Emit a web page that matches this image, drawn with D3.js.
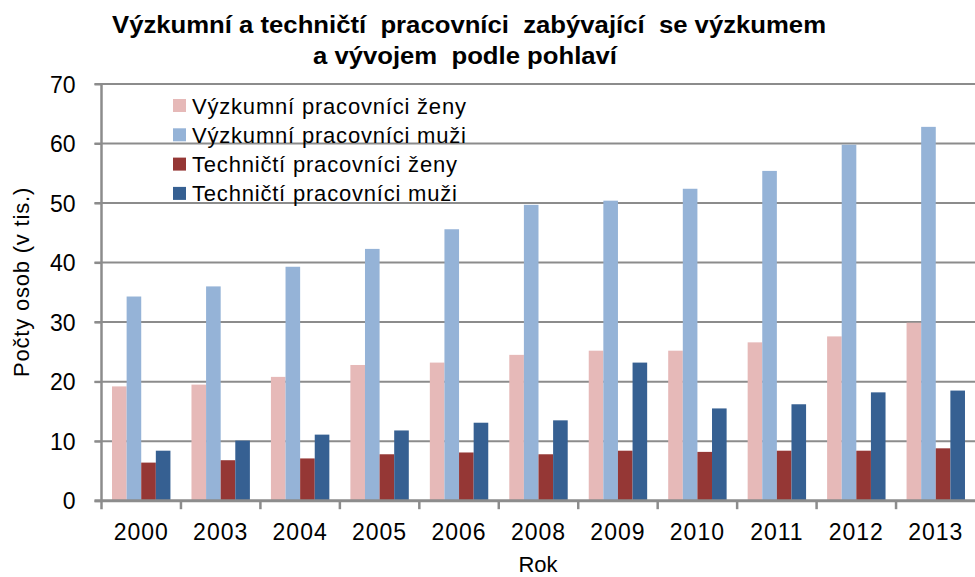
<!DOCTYPE html>
<html>
<head>
<meta charset="utf-8">
<script src="https://cdn.jsdelivr.net/npm/d3@7"></script>
<style>
  body { margin: 0; background: #fff; }
  svg { display: block; font-family: "Liberation Sans", Arial, sans-serif; }
  .domain { display: none; }
</style>
</head>
<body>
<svg id="chart"></svg>
<script>
// data (thousands of persons)
var years = ["2000", "2003", "2004", "2005", "2006", "2008", "2009", "2010", "2011", "2012", "2013"];
var vyzZeny  = [19.2, 19.5, 20.8, 22.8, 23.2, 24.5, 25.2, 25.2, 26.6, 27.6, 29.9];
var vyzMuzi  = [34.3, 36.0, 39.3, 42.3, 45.6, 49.7, 50.4, 52.4, 55.4, 59.8, 62.8];
var techZeny = [6.4, 6.8, 7.1, 7.8, 8.1, 7.8, 8.4, 8.2, 8.4, 8.4, 8.8];
var techMuzi = [8.4, 10.1, 11.1, 11.8, 13.1, 13.5, 23.2, 15.5, 16.2, 18.2, 18.5];
var seriesNames = ["Výzkumní pracovníci ženy", "Výzkumní pracovníci muži", "Techničtí pracovníci ženy", "Techničtí pracovníci muži"];
var seriesColors = ["#E6B9B8", "#95B3D7", "#953735", "#366092"];
var yTicks = [0, 10, 20, 30, 40, 50, 60, 70];

var W = 975, H = 577;
var plotL = 101.5, plotR = 975.5, plotT = 84, plotB = 500.7;

var svg = d3.select("#chart").attr("width", W).attr("height", H);

var seriesData = [vyzZeny, vyzMuzi, techZeny, techMuzi];

var x0 = d3.scaleBand().domain(years).range([plotL, plotR]).padding(0);
var x1 = d3.scaleBand().domain(d3.range(4)).range([0, x0.bandwidth()])
    .paddingInner(0).paddingOuter(0.72);
var y = d3.scaleLinear().domain([0, 70]).range([plotB, plotT]);

// gridlines
svg.append("g").selectAll("line")
    .data(yTicks.filter(function(d) { return d > 0; }))
    .enter().append("line")
    .attr("x1", plotL - 7).attr("x2", W)
    .attr("y1", function(d) { return y(d); })
    .attr("y2", function(d) { return y(d); })
    .style("stroke", "#8c8c8c")
    .style("stroke-width", 2);

// bars
var groups = svg.append("g").selectAll("g")
    .data(years).enter().append("g")
    .attr("transform", function(d) { return "translate(" + x0(d) + ",0)"; });

groups.selectAll("rect")
    .data(function(d, i) { return seriesData.map(function(s, k) { return {k: k, v: s[i]}; }); })
    .enter().append("rect")
    .attr("x", function(d) { return x1(d.k); })
    .attr("width", x1.bandwidth())
    .attr("y", function(d) { return y(d.v); })
    .attr("height", function(d) { return plotB - y(d.v); })
    .style("fill", function(d) { return seriesColors[d.k]; });

// y axis
var yAxis = svg.append("g")
    .attr("transform", "translate(" + plotL + ",0)")
    .call(d3.axisLeft(y).tickValues(yTicks).tickSize(7).tickPadding(19));
yAxis.attr("font-family", null);
yAxis.selectAll(".tick line").style("stroke", "#8c8c8c").style("stroke-width", 2);
yAxis.selectAll("text").style("font-size", "23px").style("fill", "#000")
    .attr("dy", "0.36em");
svg.append("line")
    .attr("x1", plotL).attr("x2", plotL)
    .attr("y1", plotT).attr("y2", plotB + 8.5)
    .style("stroke", "#8c8c8c").style("stroke-width", 2.5);

// x axis
svg.append("line")
    .attr("x1", plotL - 7).attr("x2", W)
    .attr("y1", plotB).attr("y2", plotB)
    .style("stroke", "#8c8c8c").style("stroke-width", 3);
svg.append("g").selectAll("line")
    .data(years.slice(1)).enter().append("line")
    .attr("x1", function(d) { return x0(d); })
    .attr("x2", function(d) { return x0(d); })
    .attr("y1", plotB).attr("y2", plotB + 8.5)
    .style("stroke", "#8c8c8c").style("stroke-width", 2.5);
svg.append("g").selectAll("text")
    .data(years).enter().append("text")
    .attr("x", function(d) { return x0(d) + x0.bandwidth() / 2; })
    .attr("y", 539.5)
    .attr("text-anchor", "middle")
    .style("font-size", "23px")
    .style("letter-spacing", "1px")
    .text(function(d) { return d; });

// axis titles
svg.append("text")
    .attr("x", 538).attr("y", 572)
    .attr("text-anchor", "middle")
    .style("font-size", "22px")
    .text("Rok");
svg.append("text")
    .attr("transform", "translate(29,282) rotate(-90)")
    .attr("text-anchor", "middle")
    .style("font-size", "22px")
    .style("letter-spacing", "0.8px")
    .text("Počty osob (v tis.)");

// title
svg.append("text")
    .attr("x", 469).attr("y", 33)
    .attr("text-anchor", "middle")
    .style("font-size", "23px").style("font-weight", "bold")
    .style("white-space", "pre")
    .attr("textLength", 714).attr("lengthAdjust", "spacingAndGlyphs")
    .text("Výzkumní a techničtí  pracovníci  zabývající  se výzkumem");
svg.append("text")
    .attr("x", 465).attr("y", 64)
    .attr("text-anchor", "middle")
    .style("font-size", "23px").style("font-weight", "bold")
    .style("white-space", "pre")
    .attr("textLength", 304).attr("lengthAdjust", "spacingAndGlyphs")
    .text("a vývojem  podle pohlaví");

// legend
var legend = svg.append("g").selectAll("g")
    .data(seriesNames).enter().append("g")
    .attr("transform", function(d, i) { return "translate(173," + (105.5 + i * 29.3) + ")"; });
legend.append("rect")
    .attr("x", 0).attr("y", -6.5)
    .attr("width", 13).attr("height", 13)
    .style("fill", function(d, i) { return seriesColors[i]; });
legend.append("text")
    .attr("x", 19).attr("y", 8)
    .style("font-size", "22px")
    .style("letter-spacing", "0.8px")
    .text(function(d) { return d; });
</script>
</body>
</html>
